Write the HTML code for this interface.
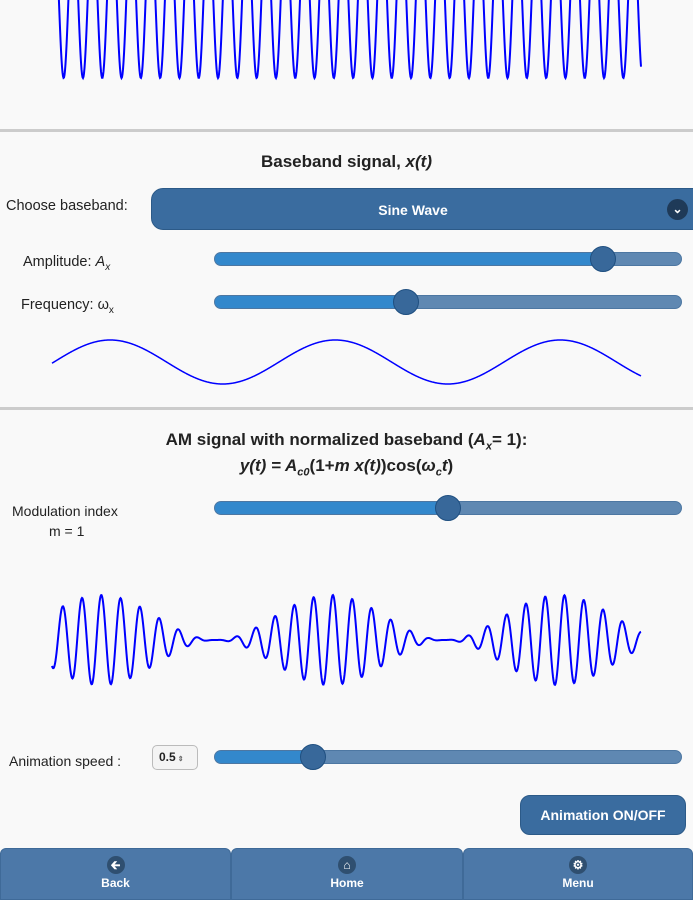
<!DOCTYPE html>
<html><head><meta charset="utf-8"><style>
body{margin:0;width:693px;height:900px;background:#f9f9f9;font-family:"Liberation Sans",sans-serif;position:relative;overflow:hidden;color:#222}
.a{position:absolute}
.hr{position:absolute;left:0;width:693px;height:3px;background:#ccc}
.lbl{position:absolute;font-size:14.5px;color:#222}
.track{position:absolute;left:214px;width:468px;height:14px;border-radius:7px;background:#5f88b2;border:1px solid #4d77a2;box-sizing:border-box;overflow:hidden}
.fill{position:absolute;left:0;top:0;bottom:0;background:#3388cc}
.thumb{position:absolute;width:26px;height:26px;border-radius:50%;background:#38689a;border:1px solid #1f4f80;box-sizing:border-box}
.title{position:absolute;left:0;width:693px;text-align:center;font-weight:bold;font-size:17px}
.nav{position:absolute;top:848px;height:52px;background:#4c78a8;border:1px solid #3f6a98;box-sizing:border-box;border-radius:6px 6px 0 0;color:#fff;font-weight:bold;font-size:12px;text-align:center}
.ic{width:18px;height:18px;border-radius:50%;background:#2f4f70;margin:7px auto 2px;color:#fff;font-size:12px;line-height:18px}
</style></head><body>
<svg class="a" style="left:0;top:0" width="693" height="900">
<path id="p1" fill="none" stroke="#0000ff" stroke-width="2" d=""/>
<path id="p2" fill="none" stroke="#0000ff" stroke-width="1.5" d=""/>
<path id="p3" fill="none" stroke="#0000ff" stroke-width="2" d=""/>
</svg>
<script>
(function(){var d1="",d2="",d3="";for(var x=52;x<=641;x+=0.5){
var y1=-2-80*Math.cos(2*Math.PI*(x-54)/19.3);d1+=(x==52?"M":"L")+x+" "+y1.toFixed(2);
var y2=362-22*Math.sin(2*Math.PI*(x-54)/225);d2+=(x==52?"M":"L")+x+" "+y2.toFixed(2);
var A=22.5*(1+Math.cos(2*Math.PI*(x-101)/229));var y3=640-A*Math.cos(2*Math.PI*(x-62.7)/19.3);d3+=(x==52?"M":"L")+x+" "+y3.toFixed(2);}
document.getElementById("p1").setAttribute("d",d1);document.getElementById("p2").setAttribute("d",d2);document.getElementById("p3").setAttribute("d",d3);})();
</script>
<div class="hr" style="top:129px"></div>
<div class="title" style="top:152px">Baseband signal, <i>x(t)</i></div>
<div class="lbl" style="left:6px;top:198px">Choose baseband:</div>
<div class="a" style="left:151px;top:188px;width:560px;height:42px;background:#3a6c9f;border:1px solid #2c5a88;border-radius:12px;box-sizing:border-box"></div>
<div class="a" style="left:151px;top:202px;width:524px;text-align:center;color:#fff;font-weight:bold;font-size:14px">Sine Wave</div>
<div class="a" style="left:667px;top:199px;width:21px;height:21px;border-radius:50%;background:#1f3a58;color:#fff;font-size:12px;text-align:center;line-height:21px;font-weight:bold">&#8964;</div>
<div class="lbl" style="left:23px;top:254px">Amplitude: <i>A</i><sub style="font-size:10px"><i>x</i></sub></div>
<div class="track" style="top:252px"><div class="fill" style="width:389px"></div></div>
<div class="thumb" style="left:590px;top:246px"></div>
<div class="lbl" style="left:21px;top:297px">Frequency: ω<sub style="font-size:10px">x</sub></div>
<div class="track" style="top:295px"><div class="fill" style="width:192px"></div></div>
<div class="thumb" style="left:393px;top:289px"></div>
<div class="hr" style="top:407px"></div>
<div class="title" style="top:430px">AM signal with normalized baseband (<i>A<sub style="font-size:11px">x</sub></i>= 1):</div>
<div class="title" style="top:456px"><i>y(t) = A<sub style="font-size:11px">c0</sub></i>(1+<i>m x(t)</i>)cos(<i>ω<sub style="font-size:11px">c</sub>t</i>)</div>
<div class="lbl" style="left:12px;top:503px;font-size:14px">Modulation index</div>
<div class="lbl" style="left:49px;top:523px;font-size:14px">m = 1</div>
<div class="track" style="top:501px"><div class="fill" style="width:234px"></div></div>
<div class="thumb" style="left:435px;top:495px"></div>
<div class="lbl" style="left:9px;top:753px;font-size:14px">Animation speed :</div>
<div class="a" style="left:152px;top:745px;width:46px;height:25px;border:1px solid #bbb;border-radius:5px;background:#f4f4f4;box-sizing:border-box;font-size:12px;font-weight:bold;line-height:23px;padding-left:6px">0.5<span style="font-size:7px;color:#666;margin-left:2px">⇕</span></div>
<div class="track" style="top:750px"><div class="fill" style="width:99px"></div></div>
<div class="thumb" style="left:300px;top:744px"></div>
<div class="a" style="left:520px;top:795px;width:166px;height:40px;background:#3a6c9f;border:1px solid #2c5a88;border-radius:10px;box-sizing:border-box;color:#fff;font-weight:bold;font-size:14px;text-align:center;line-height:38px">Animation ON/OFF</div>
<div class="nav" style="left:0;width:231px"><div class="ic">&#129136;</div>Back</div>
<div class="nav" style="left:231px;width:232px"><div class="ic">&#8962;</div>Home</div>
<div class="nav" style="left:463px;width:230px"><div class="ic">&#9881;</div>Menu</div>
</body></html>
